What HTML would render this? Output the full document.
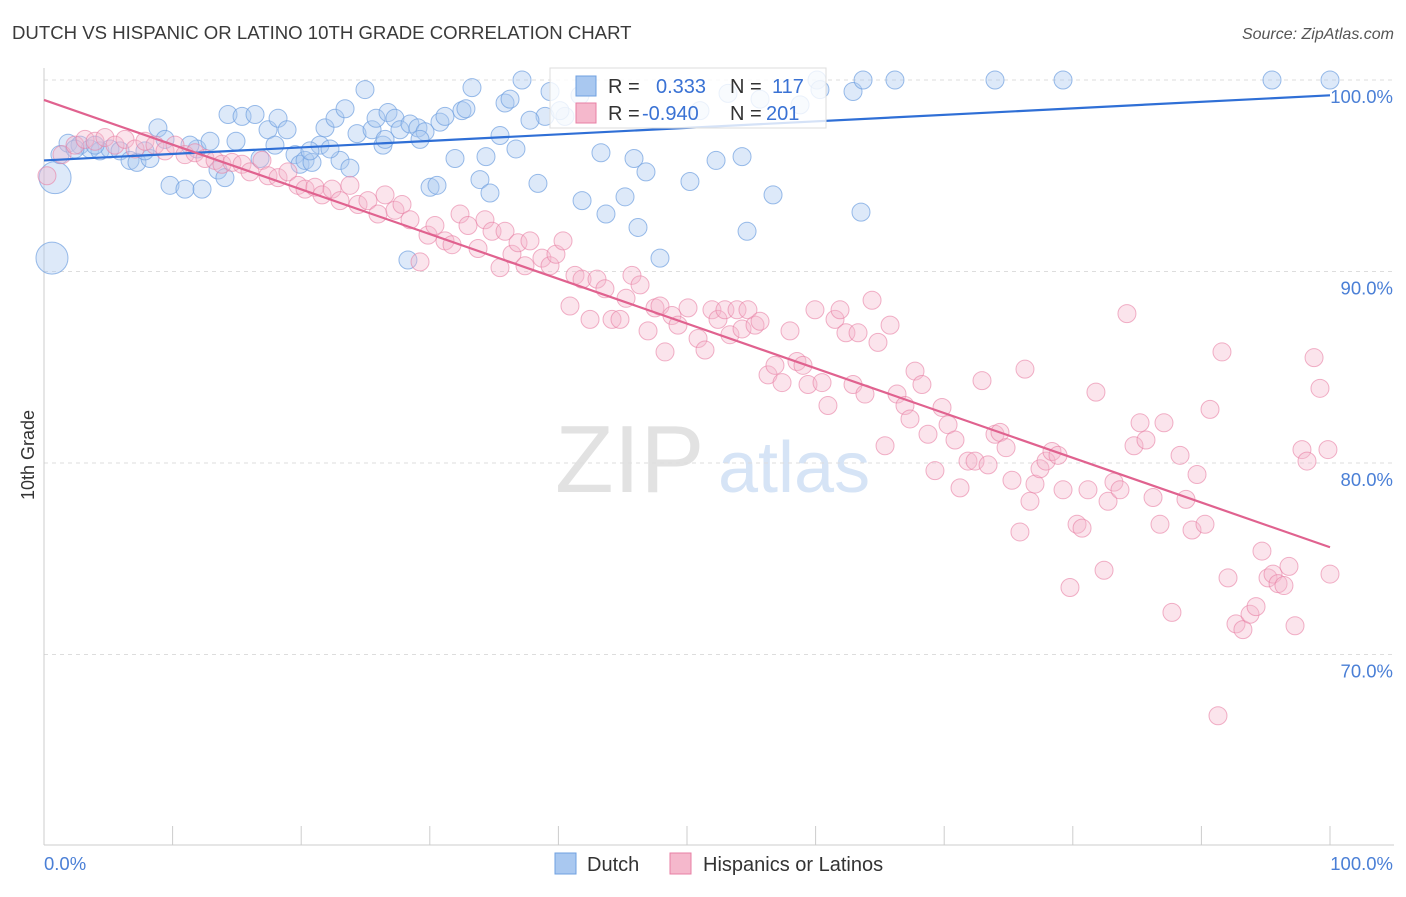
<!DOCTYPE html>
<html><head><meta charset="utf-8"><style>
body{margin:0;background:#fff;font-family:"Liberation Sans",sans-serif}
svg text{font-family:"Liberation Sans",sans-serif}
</style></head><body>
<svg id="chart" width="1406" height="892" xmlns="http://www.w3.org/2000/svg">
<text x="12" y="39" font-size="18.6" fill="#3a3a3a">DUTCH VS HISPANIC OR LATINO 10TH GRADE CORRELATION CHART</text>
<text x="1394" y="39" font-size="16" fill="#555" text-anchor="end" font-style="italic">Source: ZipAtlas.com</text>
<text x="555" y="492" font-size="96" fill="#e2e2e2" font-family="Liberation Serif">ZIP</text>
<text x="718" y="492" font-size="72" fill="#d6e4f6">atlas</text>
<g id="grid"></g>
<g id="axes"></g>
<g id="pts"></g>
<g id="trend"></g>
<text transform="translate(34,455) rotate(-90)" font-size="18" fill="#333" text-anchor="middle">10th Grade</text>
<text x="44" y="870" font-size="18.5" fill="#4a7fd6">0.0%</text>
<text x="1393" y="870" font-size="18.5" fill="#4a7fd6" text-anchor="end">100.0%</text>
<g>
<rect x="550" y="68" width="276" height="60" fill="#fff" fill-opacity="0.8" stroke="#ddd"/>
<rect x="576" y="76" width="20" height="20" fill="#a9c8f0" stroke="#6fa0e0"/>
<rect x="576" y="103" width="20" height="20" fill="#f5b8cc" stroke="#e87fa4"/>
<text x="608" y="93" font-size="20" fill="#333">R =</text>
<text x="656" y="93" font-size="20" fill="#3a72d4">0.333</text>
<text x="730" y="93" font-size="20" fill="#333">N =</text>
<text x="772" y="93" font-size="20" fill="#3a72d4">117</text>
<text x="608" y="120" font-size="20" fill="#333">R =</text>
<text x="642" y="120" font-size="20" fill="#3a72d4">-0.940</text>
<text x="730" y="120" font-size="20" fill="#333">N =</text>
<text x="766" y="120" font-size="20" fill="#3a72d4">201</text>
</g>
<g>
<rect x="555" y="853" width="21" height="21" fill="#a9c8f0" stroke="#6fa0e0"/>
<text x="587" y="871" font-size="20" fill="#333">Dutch</text>
<rect x="670" y="853" width="21" height="21" fill="#f5b8cc" stroke="#e87fa4"/>
<text x="703" y="871" font-size="20" fill="#333">Hispanics or Latinos</text>
</g>
</svg>
<script>
const yTicks=[100,90,80,70];
const yTickLabels=["100.0%","90.0%","80.0%","70.0%"];
const xTicks=[0,10,20,30,40,50,60,70,80,90,100];
const dutchX=[0.86,0.62,1.24,1.87,2.80,3.58,4.35,5.13,5.91,6.69,7.23,8.24,8.86,9.41,9.80,10.96,11.90,12.29,12.91,13.53,14.07,14.31,14.93,15.40,16.41,16.80,17.42,17.96,18.20,18.90,19.52,19.91,20.30,20.84,21.46,21.85,22.63,23.02,23.41,23.79,24.34,24.96,25.51,25.82,26.36,26.75,27.29,27.68,28.30,28.46,29.08,29.63,30.02,30.56,30.79,31.18,31.96,32.50,32.81,33.28,33.90,34.37,34.68,35.46,35.85,36.24,36.70,37.17,38.41,38.96,39.35,40.51,41.84,43.31,43.70,45.18,45.88,46.19,46.81,47.90,50.23,52.26,53.19,54.28,54.67,56.69,60.11,62.91,63.53,63.69,66.17,73.95,79.24,95.49,100,2.41,3.97,7.85,11.35,20.68,22.24,26.52,29.24,37.79,40.12,41.68,51.01,55.68,58.79,60.34];
const dutchY=[94.9,90.7,96.1,96.7,96.6,96.4,96.3,96.4,96.3,95.8,95.7,95.9,97.5,96.9,94.5,94.3,96.4,94.3,96.8,95.3,94.9,98.2,96.8,98.1,98.2,95.9,97.4,96.6,98.0,97.4,96.1,95.6,95.8,95.7,96.6,97.5,98.0,95.8,98.5,95.4,97.2,99.5,97.4,98.0,96.6,98.3,98.0,97.4,90.6,97.7,97.5,97.3,94.4,94.5,97.8,98.1,95.9,98.4,98.5,99.6,94.8,96.0,94.1,97.1,98.8,99.0,96.4,100,94.6,98.1,99.4,98.1,93.7,96.2,93.0,93.9,95.9,92.3,95.2,90.7,94.7,95.8,99.3,96.0,92.1,94.0,100,99.4,93.1,100,100,100,100,100,100,96.4,96.6,96.3,96.6,96.3,96.4,96.9,96.9,97.9,98.4,99.2,98.4,99.0,98.7,99.5];
const hispX=[0.23,1.40,2.41,3.19,3.97,4.74,5.52,6.30,7.08,7.85,8.63,9.41,10.19,10.96,11.74,12.52,13.30,13.84,14.62,15.40,16.02,16.95,17.42,18.20,18.97,19.75,20.30,21.07,21.62,22.40,23.02,23.79,24.42,25.19,25.97,26.52,27.29,27.84,28.46,29.24,29.86,30.40,31.18,31.73,32.35,32.97,33.75,34.29,34.84,35.46,35.85,36.39,36.86,37.40,37.79,38.72,39.35,39.81,40.36,40.90,41.29,41.84,42.46,43.00,43.62,44.17,44.79,45.26,45.72,46.35,46.97,47.51,47.90,48.29,48.83,49.30,50.08,50.86,51.40,51.94,52.41,52.95,53.34,53.89,54.28,54.74,55.29,55.68,56.30,56.84,57.39,58.01,58.55,59.02,59.41,59.95,60.50,60.96,61.51,61.90,62.36,62.91,63.30,63.84,64.39,64.85,65.40,65.79,66.33,66.95,67.34,67.73,68.27,68.74,69.28,69.83,70.30,70.84,71.23,71.85,72.40,72.94,73.41,73.95,74.34,74.81,75.27,75.89,76.28,76.67,77.06,77.45,77.92,78.38,78.85,79.24,79.78,80.33,80.72,81.18,81.80,82.43,82.74,83.20,83.67,84.21,84.76,85.23,85.69,86.24,86.78,87.09,87.71,88.34,88.80,89.27,89.66,90.28,90.67,91.29,91.60,92.07,92.69,93.23,93.78,94.25,94.71,95.18,95.57,95.96,96.42,96.81,97.28,97.82,98.21,98.76,99.22,99.84,100];
const hispY=[95.0,96.1,96.6,96.9,96.8,97.0,96.6,96.9,96.4,96.8,96.6,96.3,96.6,96.1,96.2,95.9,95.8,95.6,95.7,95.6,95.2,95.8,95.0,94.9,95.2,94.5,94.3,94.4,94.0,94.3,93.7,94.5,93.5,93.7,93.0,94.0,93.2,93.5,92.7,90.5,91.9,92.4,91.6,91.4,93.0,92.4,91.2,92.7,92.1,90.2,92.1,90.9,91.5,90.3,91.6,90.7,90.3,90.9,91.6,88.2,89.8,89.6,87.5,89.6,89.1,87.5,87.5,88.6,89.8,89.3,86.9,88.1,88.2,85.8,87.7,87.2,88.1,86.5,85.9,88.0,87.5,88.0,86.7,88.0,87.0,88.0,87.2,87.4,84.6,85.1,84.2,86.9,85.3,85.1,84.1,88.0,84.2,83.0,87.5,88.0,86.8,84.1,86.8,83.6,88.5,86.3,80.9,87.2,83.6,83.0,82.3,84.8,84.1,81.5,79.6,82.9,82.0,81.2,78.7,80.1,80.1,84.3,79.9,81.5,81.6,80.8,79.1,76.4,84.9,78.0,78.9,79.7,80.1,80.6,80.4,78.6,73.5,76.8,76.6,78.6,83.7,74.4,78.0,79.0,78.6,87.8,80.9,82.1,81.2,78.2,76.8,82.1,72.2,80.4,78.1,76.5,79.4,76.8,82.8,66.8,85.8,74.0,71.6,71.3,72.1,72.5,75.4,74.0,74.2,73.7,73.6,74.6,71.5,80.7,80.1,85.5,83.9,80.7,74.2];
const bigDutch=[0,1];
const dutchTrend=[95.8,99.2];
const hispTrend=[98.96,75.6];

const NS="http://www.w3.org/2000/svg";
const X0=44,X1=1330,YTOP=80,PX10=191.5;
function sx(v){return X0+(X1-X0)*v/100;}
function sy(v){return YTOP+(100-v)*PX10/10;}
function mk(tag,attrs,parent){const e=document.createElementNS(NS,tag);for(const k in attrs)e.setAttribute(k,attrs[k]);parent.appendChild(e);return e;}
const grid=document.getElementById('grid'),axes=document.getElementById('axes'),pts=document.getElementById('pts'),trend=document.getElementById('trend');
yTicks.forEach((t,i)=>{
  const l=mk('line',{x1:X0,x2:1394,y1:sy(t),y2:sy(t),stroke:'#ddd','stroke-dasharray':'4,4'},grid);
  
  
  const tx=mk('text',{x:1393,y:sy(t)+23,'font-size':18.5,fill:'#4a7fd6','text-anchor':'end'},grid);
  tx.textContent=yTickLabels[i];
  
  
});
const ax=mk('line',{x1:X0,x2:1394,y1:845,y2:845,stroke:'#ccc'},axes);


const ay=mk('line',{x1:X0,x2:X0,y1:68,y2:845,stroke:'#ccc'},axes);


xTicks.forEach(t=>{
  const l=mk('line',{x1:sx(t),x2:sx(t),y1:826,y2:845,stroke:'#ccc'},axes);
  
  
});
dutchX.forEach((x,i)=>{
  const c=mk('circle',{cx:sx(x),cy:sy(dutchY[i]),r:bigDutch.includes(i)?16:9,fill:'#a9c8f0','fill-opacity':0.4,stroke:'#6fa0e0','stroke-opacity':0.7},pts);
  
  
});
hispX.forEach((x,i)=>{
  const c=mk('circle',{cx:sx(x),cy:sy(hispY[i]),r:9,fill:'#f5b8cc','fill-opacity':0.38,stroke:'#e87fa4','stroke-opacity':0.6},pts);
  
  
});
const bt=mk('line',{x1:sx(0),y1:sy(dutchTrend[0]),x2:sx(100),y2:sy(dutchTrend[1]),stroke:'#2f6fd6','stroke-width':2.2},trend);


const pt=mk('line',{x1:sx(0),y1:sy(hispTrend[0]),x2:sx(100),y2:sy(hispTrend[1]),stroke:'#e0628f','stroke-width':2.2},trend);


</script>
</body></html>
